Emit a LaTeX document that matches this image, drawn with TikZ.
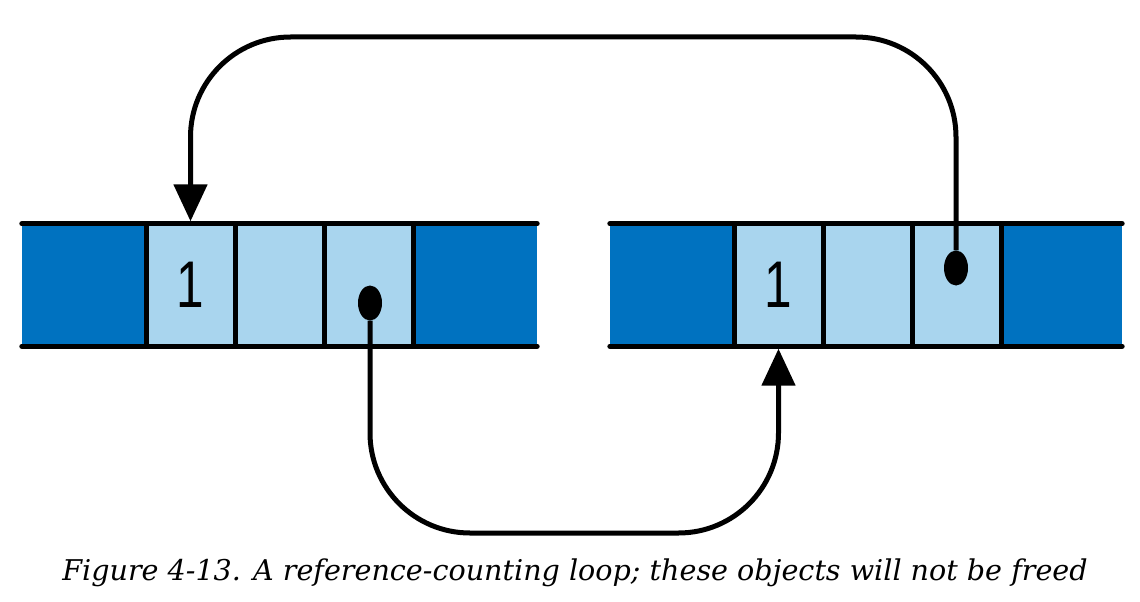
\documentclass[tikz,border=0pt]{standalone}
\usepackage{fontspec}
\setmainfont{DejaVu Serif}
\newfontfamily\digitfont{Liberation Sans}
\usetikzlibrary{arrows.meta,shapes.geometric}
\definecolor{darkblue}{RGB}{0,114,192}
\definecolor{lightblue}{RGB}{169,213,238}
\newcommand{\cnt}[1]{\scalebox{0.75}[1]{#1}}
\begin{document}
\begin{tikzpicture}[x=1pt,y=-1pt,
  cellbase/.style={inner sep=0pt, minimum height=122pt, draw=none},
  darkcell/.style={cellbase, fill=darkblue, minimum width=124pt},
  lightcell/.style={cellbase, fill=lightblue, minimum width=89pt, font=\digitfont\fontsize{66}{68}\selectfont},
  rail/.style={line width=5pt, line cap=round},
  divider/.style={line width=5pt},
  ptr/.style={ellipse, fill=black, minimum width=24pt, minimum height=35pt, inner sep=0pt},
  link/.style={line width=5pt, rounded corners=100pt, -{Triangle[width=33pt,length=37pt]}, shorten >=2.5pt}
]
\useasboundingbox (0,0) rectangle (1140,602);

% left object
\node[darkcell]  (l0) at (84,285) {};
\node[lightcell] (l1) at (190.5,285) {\cnt{1}};
\node[lightcell] (l2) at (279.5,285) {};
\node[lightcell] (l3) at (368.5,285) {};
\node[darkcell]  (l4) at (475,285) {};

% right object
\node[darkcell]  (r0) at (672,285) {};
\node[lightcell] (r1) at (778.5,285) {\cnt{1}};
\node[lightcell] (r2) at (867.5,285) {};
\node[lightcell] (r3) at (956.5,285) {};
\node[darkcell, minimum width=121pt] (r4) at (1061.5,285) {};

% dividers
\foreach \c in {l0,l1,l2,l3,r0,r1,r2,r3}
  \draw[divider] (\c.north east) -- (\c.south east);

% rails
\draw[rail] (l0.north west) -- (l4.north east);
\draw[rail] (l0.south west) -- (l4.south east);
\draw[rail] (r0.north west) -- (r4.north east);
\draw[rail] (r0.south west) -- (r4.south east);

% pointers
\node[ptr] (ld) at (370,303) {};
\node[ptr] (rd) at (956,268) {};

% links
\draw[link] (rd.north) -- (rd |- 0,37) -- (l1.north |- 0,37) -- (l1.north);
\draw[link] (ld.south) -- (ld |- 0,533) -- (r1.south |- 0,533) -- (r1.south);

% caption
\node (cap) at (575,573) {\resizebox{1025pt}{!}{\itshape Figure 4-13. A reference-counting loop; these objects will not be freed}};
\end{tikzpicture}
\end{document}
